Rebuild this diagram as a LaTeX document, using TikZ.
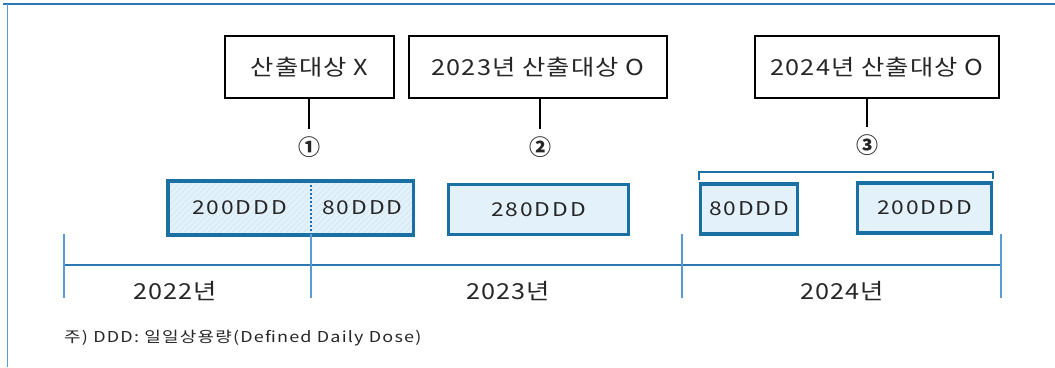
\documentclass[tikz,border=0pt]{standalone}
\usepackage{fontspec}
\setmainfont{Noto Sans CJK KR}
\newfontfamily\widefont[FakeStretch=1.15, LetterSpace=5]{Noto Sans CJK KR}
\newfontfamily\dosefont[FakeStretch=1.2, LetterSpace=10]{Noto Sans CJK KR}
\newfontfamily\notefont[FakeStretch=1.2, LetterSpace=8]{Noto Sans CJK KR}
\usetikzlibrary{positioning,patterns.meta}

\definecolor{boxblue}{HTML}{1A6FA3}
\definecolor{boxfill}{HTML}{E3F1FB}
\definecolor{hatchblue}{HTML}{C6DDF0}
\definecolor{lineblue}{HTML}{2B78B3}
\definecolor{tickblue}{HTML}{5B9BD5}
\definecolor{inkgray}{HTML}{262626}

\begin{document}
\begin{tikzpicture}[x=1pt, y=1pt,
	every node/.style={text=inkgray},
	callout/.style={draw=black, line width=2.5pt, minimum height=62pt, inner sep=0pt, font=\widefont\fontsize{22}{26}\selectfont},
	circnum/.style={minimum height=36pt, inner sep=0pt, font=\bfseries\fontsize{22}{26}\selectfont},
	dose/.style={draw=boxblue, line width=3.5pt, fill=boxfill, minimum height=50pt, inner sep=0pt, font=\dosefont\fontsize{19}{22}\selectfont},
	half/.style={fill=boxfill, postaction={pattern={Lines[angle=45, distance=4pt, line width=0.6pt]}, pattern color=hatchblue}, minimum height=54pt, inner sep=0pt, font=\dosefont\fontsize{19}{22}\selectfont},
	year/.style={font=\widefont\fontsize{22}{26}\selectfont},
	tick/.style={draw=tickblue, line width=2.5pt}
]
	\useasboundingbox (0,0) rectangle (1055,367);

	% Frame
	\draw[lineblue, line width=1.5pt] (3,363) -- (1055,363);
	\draw[tickblue, line width=1pt] (7,363) -- (7,0);

	% Callouts
	\node[callout, minimum width=169pt] (c1) at (309.5,300) {산출대상 X};
	\node[callout, minimum width=258pt] (c2) at (538,300) {2023년 산출대상 O};
	\node[callout, minimum width=244pt] (c3) at (877,300) {2024년 산출대상 O};

	\node[circnum] (n1) at (309,220) {①};
	\node[circnum] (n2) at (540,220) {②};
	\node[circnum] (n3) at (867,222) {③};

	\draw[line width=2.5pt] (c1.south -| n1) -- (n1.north);
	\draw[line width=2.5pt] (c2.south -| n2) -- (n2.north);
	\draw[line width=2.5pt] (c3.south -| n3) -- (n3.north);

	% Doses
	\node[half, minimum width=143pt] (d1a) at (239.5,159) {200DDD};
	\node[half, minimum width=102pt, right=0pt of d1a] (d1b) {80DDD};
	\draw[boxblue, line width=3.5pt] (d1a.north west) rectangle (d1b.south east);
	\draw[boxblue, line width=2.5pt, dash pattern=on 2pt off 2pt] (d1a.north east) -- (d1a.south east);

	\node[dose, minimum width=180pt] (d2) at (538.5,157.5) {280DDD};
	\node[dose, minimum width=97pt] (d3) at (749,158) {80DDD};
	\node[dose, minimum width=134pt] (d4) at (924.5,159) {200DDD};

	\draw[boxblue, line width=1.8pt] ([yshift=2pt]d3.north west) -- ++(0,8) -| ([yshift=2pt]d4.north east);

	% Timeline
	\coordinate (t0) at (64,102);
	\coordinate (t1) at (d1a.south east |- t0);
	\coordinate (t2) at (682,102);
	\coordinate (t3) at (1001,102);
	\draw[lineblue, line width=1.5pt] (t0) -- (t3);
	\foreach \t in {t0,t1,t2,t3}
		\draw[tick] ([yshift=-33pt]\t) -- ([yshift=31pt]\t);

	\node[year] (y22) at (175,76) {2022년};
	\node[year] (y23) at (508,76) {2023년};
	\node[year] (y24) at (842,76) {2024년};

	% Note
	\node[anchor=west, inner sep=0pt, font=\notefont\fontsize{15}{18}\selectfont] (note) at (64,29) {주) DDD: 일일상용량(Defined Daily Dose)};

\end{tikzpicture}
\end{document}
